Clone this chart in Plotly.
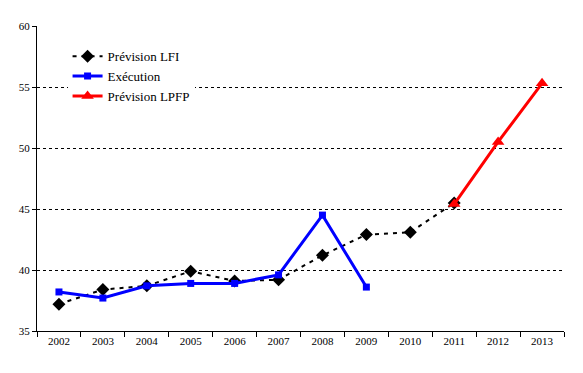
import plotly.graph_objects as go

years = ["2002", "2003", "2004", "2005", "2006", "2007", "2008", "2009", "2010", "2011", "2012", "2013"]
prevision_lfi = [37.2, 38.4, 38.7, 39.9, 39.1, 39.2, 41.2, 42.9, 43.1, 45.5, None, None]
execution = [38.2, 37.7, 38.7, 38.9, 38.9, 39.6, 44.5, 38.6, None, None, None, None]
prevision_lpfp = [None, None, None, None, None, None, None, None, None, 45.4, 50.5, 55.3]
y_ticks = [35, 40, 45, 50, 55, 60]

FONT = "'Liberation Serif', 'DejaVu Serif', serif"

fig = go.Figure()
fig.add_trace(go.Scatter(
    x=years, y=prevision_lfi, name="Prévision LFI", mode="lines+markers",
    line=dict(color="black", width=2, dash="4px,5px"),
    marker=dict(symbol="diamond", size=10, color="black"),
))
fig.add_trace(go.Scatter(
    x=years, y=execution, name="Exécution", mode="lines+markers",
    line=dict(color="#0000FF", width=3),
    marker=dict(symbol="square", size=7, color="#0000FF"),
))
fig.add_trace(go.Scatter(
    x=years, y=prevision_lpfp, name="Prévision LPFP", mode="lines+markers",
    line=dict(color="#FF0000", width=3),
    marker=dict(symbol="triangle-up", size=11, color="#FF0000"),
))

fig.update_layout(
    width=575, height=365,
    margin=dict(l=29, r=19, t=18, b=42),
    paper_bgcolor="white", plot_bgcolor="white",
    font=dict(family=FONT, size=11, color="black"),
    showlegend=True,
    legend=dict(x=0.058, y=0.95, xanchor="left", yanchor="top",
                bgcolor="white", font=dict(size=13, family=FONT),
                tracegroupgap=0, itemwidth=30),
    xaxis=dict(
        type="category", range=[-0.5, 11.5], showline=True, linecolor="black", linewidth=1,
        ticks="outside", tickson="boundaries", ticklen=5, tickcolor="black",
        showgrid=False, zeroline=False,
    ),
    yaxis=dict(
        range=[35, 60], tickvals=y_ticks, showline=True, linecolor="black", linewidth=1,
        ticks="outside", ticklen=4, tickcolor="black",
        showgrid=True, gridcolor="black", griddash="3px,3px", gridwidth=1, zeroline=False,
    ),
)

fig.write_html("out.html")
